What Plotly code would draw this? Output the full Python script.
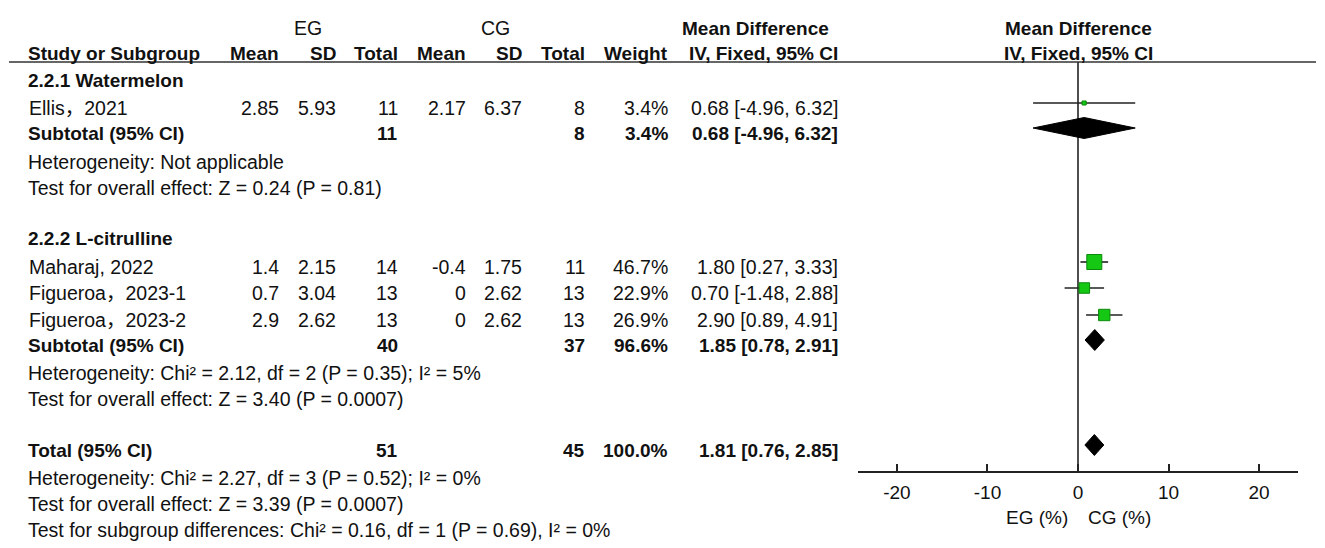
import plotly.graph_objects as go

# ---------------- data ----------------
studies = ["Ellis，2021", "Maharaj, 2022", "Figueroa，2023-1", "Figueroa，2023-2"]
eg_mean = [2.85, 1.4, 0.7, 2.9]
eg_sd = [5.93, 2.15, 3.04, 2.62]
eg_n = [11, 14, 13, 13]
cg_mean = [2.17, -0.4, 0, 0]
cg_sd = [6.37, 1.75, 2.62, 2.62]
cg_n = [8, 11, 13, 13]
weight = [3.4, 46.7, 22.9, 26.9]
md = [0.68, 1.80, 0.70, 2.90]
ci_lo = [-4.96, 0.27, -1.48, 0.89]
ci_hi = [6.32, 3.33, 2.88, 4.91]

subgroups = ["2.2.1 Watermelon", "2.2.2 L-citrulline"]
pooled_labels = ["Subtotal (95% CI)", "Subtotal (95% CI)", "Total (95% CI)"]
pooled_eg_n = [11, 40, 51]
pooled_cg_n = [8, 37, 45]
pooled_weight = [3.4, 96.6, 100.0]
pooled_md = [0.68, 1.85, 1.81]
pooled_lo = [-4.96, 0.78, 0.76]
pooled_hi = [6.32, 2.91, 2.85]

stat_lines = [
    "Heterogeneity: Not applicable",
    "Test for overall effect: Z = 0.24 (P = 0.81)",
    "Heterogeneity: Chi² = 2.12, df = 2 (P = 0.35); I² = 5%",
    "Test for overall effect: Z = 3.40 (P = 0.0007)",
    "Heterogeneity: Chi² = 2.27, df = 3 (P = 0.52); I² = 0%",
    "Test for overall effect: Z = 3.39 (P = 0.0007)",
    "Test for subgroup differences: Chi² = 0.16, df = 1 (P = 0.69), I² = 0%",
]

tick_vals = [-20, -10, 0, 10, 20]
axis_labels = ["EG (%)", "CG (%)"]

# ---------------- layout (pixel positions in the 1325x548 window) ----------------
W, H = 1325, 548
OX, OY = 8, 8                 # page body margin
FW, FH = W - OX, H - OY       # figure size
FONT = "Arial, 'Liberation Sans', 'Noto Sans CJK SC', sans-serif"
TXT = "#111111"
FS = 19.5
FSB = 19

study_text_y = [108, 267, 293, 320]
study_mark_y = [103, 262, 288, 315]
subgroup_text_y = [80, 238]
pooled_text_y = [133, 345, 450]
pooled_mark_y = [128, 340, 445]
stat_y = [162, 188, 373, 399, 478, 504, 530]

col_left = 26
col_eg_mean, col_eg_sd, col_eg_n = 281, 338, 400
col_cg_mean, col_cg_sd, col_cg_n = 468, 524, 587
col_w, col_md = 670, 840

ann = []


def px(x):
    return (x - OX) / FW


def text(x, y, s, anchor="right", bold=False, size=None):
    ann.append(dict(
        x=px(x), y=y, xref="paper", yref="y", text=s, showarrow=False,
        xanchor=anchor, yanchor="middle",
        font=dict(family=FONT, size=size or (FSB if bold else FS), color=TXT,
                  weight="bold" if bold else "normal"),
    ))


# headers
text(308, 28, "EG", anchor="center")
text(495, 28, "CG", anchor="center")
text(755, 28, "Mean Difference", anchor="center", bold=True)
text(1078, 28, "Mean Difference", anchor="center", bold=True)
text(col_left, 53, "Study or Subgroup", anchor="left", bold=True)
for x, s in [(col_eg_mean, "Mean"), (col_eg_sd, "SD"), (col_eg_n, "Total"),
             (col_cg_mean, "Mean"), (col_cg_sd, "SD"), (col_cg_n, "Total"),
             (col_w, "Weight"), (col_md, "IV, Fixed, 95% CI")]:
    text(x, 53, s, bold=True)
text(1078, 53, "IV, Fixed, 95% CI", anchor="center", bold=True)

# subgroup headings
for s, y in zip(subgroups, subgroup_text_y):
    text(col_left, y, s, anchor="left", bold=True)

# study rows
for i, s in enumerate(studies):
    y = study_text_y[i]
    text(col_left + 1, y, s, anchor="left")
    text(col_eg_mean, y, f"{eg_mean[i]:g}")
    text(col_eg_sd, y, f"{eg_sd[i]:g}")
    text(col_eg_n, y, f"{eg_n[i]}")
    text(col_cg_mean, y, f"{cg_mean[i]:g}")
    text(col_cg_sd, y, f"{cg_sd[i]:g}")
    text(col_cg_n, y, f"{cg_n[i]}")
    text(col_w, y, f"{weight[i]:.1f}%")
    text(col_md, y, f"{md[i]:.2f} [{ci_lo[i]:.2f}, {ci_hi[i]:.2f}]")

# pooled rows
for i, s in enumerate(pooled_labels):
    y = pooled_text_y[i]
    text(col_left, y, s, anchor="left", bold=True)
    text(col_eg_n, y, f"{pooled_eg_n[i]}", bold=True)
    text(col_cg_n, y, f"{pooled_cg_n[i]}", bold=True)
    text(col_w, y, f"{pooled_weight[i]:.1f}%", bold=True)
    text(col_md, y, f"{pooled_md[i]:.2f} [{pooled_lo[i]:.2f}, {pooled_hi[i]:.2f}]", bold=True)

# statistics lines
for s, y in zip(stat_lines, stat_y):
    text(col_left, y, s, anchor="left")

# axis labels under forest plot
text(1037, 517, axis_labels[0], anchor="center", size=19)
text(1119, 517, axis_labels[1], anchor="center", size=19)

fig = go.Figure()

# study estimates with CIs
sizes = [15 * (w / max(weight)) ** 0.5 for w in weight]
fig.add_trace(go.Scatter(
    x=md, y=study_mark_y, mode="markers",
    marker=dict(symbol="square", size=sizes, color="#14c814", opacity=1,
                line=dict(color="#0a8a0a", width=1)),
    error_x=dict(type="data", symmetric=False,
                 array=[h - m for h, m in zip(ci_hi, md)],
                 arrayminus=[m - l for m, l in zip(md, ci_lo)],
                 width=0, thickness=1.6, color="#222222"),
    showlegend=False, hoverinfo="skip",
))

# pooled diamonds
half_h = 10.5
for m, lo, hi, y in zip(pooled_md, pooled_lo, pooled_hi, pooled_mark_y):
    fig.add_trace(go.Scatter(
        x=[lo, m, hi, m, lo], y=[y, y - half_h, y, y + half_h, y],
        mode="lines", fill="toself", fillcolor="#000000",
        line=dict(color="#000000", width=1),
        showlegend=False, hoverinfo="skip",
    ))

axis_y = 472
header_y = 62
shapes = [
    dict(type="line", xref="paper", yref="y", x0=px(9), x1=px(1316),
         y0=header_y, y1=header_y, line=dict(color="#333333", width=1.6)),
    dict(type="line", xref="x", yref="y", x0=0, x1=0, y0=header_y, y1=axis_y,
         line=dict(color="#222222", width=1.6), layer="below"),
]

fig.update_layout(
    width=FW, height=FH, autosize=False,
    margin=dict(l=0, r=0, t=0, b=0, pad=0),
    paper_bgcolor="white", plot_bgcolor="rgba(0,0,0,0)",
    annotations=ann, shapes=shapes,
    xaxis=dict(
        domain=[px(858), px(1298)], range=[-24.3, 24.3],
        anchor="free", position=1 - (axis_y - OY) / FH,
        showline=True, linecolor="#222222", linewidth=1.6,
        ticks="inside", ticklen=7, tickwidth=1.6, tickcolor="#222222",
        tickvals=tick_vals, ticktext=[str(v) for v in tick_vals],
        tickfont=dict(family=FONT, size=19, color=TXT),
        ticklabelstandoff=3,
        showgrid=False, zeroline=False, fixedrange=True,
    ),
    yaxis=dict(
        domain=[0, 1], range=[H, OY], visible=False,
        showgrid=False, zeroline=False, fixedrange=True,
    ),
)

fig.write_html("out.html")
